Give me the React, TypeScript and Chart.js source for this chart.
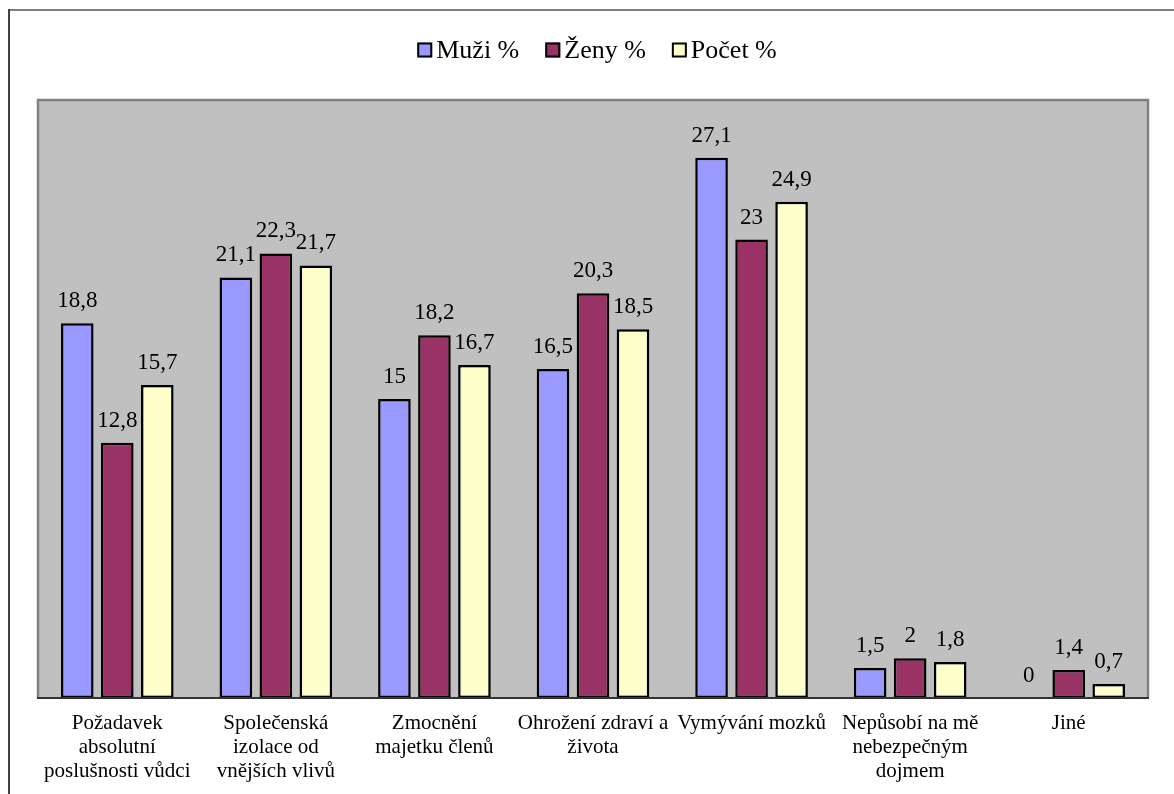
import React, { useEffect, useRef } from "react";
import { Chart, registerables } from "chart.js";

Chart.register(...registerables);

const categories: string[][] = [
  ["Požadavek", "absolutní", "poslušnosti vůdci"],
  ["Společenská", "izolace od", "vnějších vlivů"],
  ["Zmocnění", "majetku členů"],
  ["Ohrožení zdraví a", "života"],
  ["Vymývání mozků"],
  ["Nepůsobí na mě", "nebezpečným", "dojmem"],
  ["Jiné"],
];

const muzi = [18.8, 21.1, 15, 16.5, 27.1, 1.5, 0];
const zeny = [12.8, 22.3, 18.2, 20.3, 23, 2, 1.4];
const pocet = [15.7, 21.7, 16.7, 18.5, 24.9, 1.8, 0.7];

const seriesNames = ["Muži %", "Ženy %", "Počet %"];
const seriesColors = ["#9999ff", "#993366", "#ffffcc"];

const FONT = '"Liberation Serif", "Times New Roman", serif';

const framePlugin = {
  id: "framePlugin",
  beforeDraw(chart: any) {
    const { ctx, chartArea, width, height } = chart;
    ctx.save();
    ctx.fillStyle = "#ffffff";
    ctx.fillRect(0, 0, width, height);
    // outer frame
    ctx.fillStyle = "#7f7f7f";
    ctx.fillRect(0, 1, width, 2);
    ctx.fillStyle = "#404040";
    ctx.fillRect(0, 1, 2, height);
    // plot area
    const { left, top, right, bottom } = chartArea;
    ctx.fillStyle = "#c0c0c0";
    ctx.fillRect(left, top, right - left, bottom - top);
    ctx.strokeStyle = "#808080";
    ctx.lineWidth = 2.5;
    ctx.beginPath();
    ctx.moveTo(left, bottom);
    ctx.lineTo(left, top);
    ctx.lineTo(right, top);
    ctx.lineTo(right, bottom);
    ctx.stroke();
    ctx.restore();
  },
  afterDatasetsDraw(chart: any) {
    const { ctx, chartArea } = chart;
    ctx.save();
    ctx.strokeStyle = "#333333";
    ctx.lineWidth = 2;
    ctx.beginPath();
    ctx.moveTo(chartArea.left - 1, chartArea.bottom);
    ctx.lineTo(chartArea.right + 1, chartArea.bottom);
    ctx.stroke();

    // data labels
    ctx.fillStyle = "#000000";
    ctx.font = `23px ${FONT}`;
    ctx.textAlign = "center";
    ctx.textBaseline = "alphabetic";
    chart.data.datasets.forEach((ds: any, di: number) => {
      const meta = chart.getDatasetMeta(di);
      meta.data.forEach((el: any, i: number) => {
        const v = ds.data[i];
        const txt = String(v).replace(".", ",");
        ctx.fillText(txt, el.x, el.y - 16);
      });
    });

    // legend
    ctx.font = `26px ${FONT}`;
    ctx.textAlign = "left";
    ctx.textBaseline = "middle";
    const box = 15;
    const gapBoxText = 4;
    const gapItems = 26;
    const widths = seriesNames.map((n) => ctx.measureText(n).width);
    const total =
      widths.reduce((a: number, w: number) => a + box + gapBoxText + w, 0) +
      gapItems * (seriesNames.length - 1);
    let x = (chartArea.left + chartArea.right) / 2 + 4 - total / 2;
    const cy = 42;
    seriesNames.forEach((n, i) => {
      ctx.fillStyle = seriesColors[i];
      ctx.fillRect(x, cy - box / 2, box, box);
      ctx.strokeStyle = "#000000";
      ctx.lineWidth = 2;
      ctx.strokeRect(x + 1, cy - box / 2 + 1, box - 2, box - 2);
      ctx.fillStyle = "#000000";
      ctx.fillText(n, x + box + gapBoxText, cy + 1);
      x += box + gapBoxText + widths[i] + gapItems;
    });
    ctx.restore();
  },
};

export default function App() {
  const ref = useRef<HTMLCanvasElement | null>(null);

  useEffect(() => {
    if (!ref.current) return;
    const chart = new Chart(ref.current, {
      type: "bar",
      data: {
        labels: categories,
        datasets: [muzi, zeny, pocet].map((d, i) => ({
          label: seriesNames[i],
          data: d,
          backgroundColor: seriesColors[i],
          borderColor: "#000000",
          borderWidth: 2.5,
          borderSkipped: false,
          categoryPercentage: 0.757,
          barPercentage: 0.815,
        })),
      },
      options: {
        animation: false,
        responsive: true,
        maintainAspectRatio: false,
        layout: { padding: { top: 92, right: 26, left: 30, bottom: 0 } },
        plugins: {
          legend: { display: false },
          tooltip: { enabled: false },
        },
        scales: {
          x: {
            grid: { display: false, drawTicks: false },
            border: { display: false },
            ticks: {
              color: "#000000",
              font: { family: FONT, size: 21, lineHeight: 1.15 },
              maxRotation: 0,
              minRotation: 0,
              autoSkip: false,
              padding: 13,
            },
            afterFit: (scale: any) => {
              scale.height = 96;
            },
          },
          y: {
            display: false,
            min: 0,
            max: 30,
          },
        },
      },
      plugins: [framePlugin],
    });
    return () => chart.destroy();
  }, []);

  return (
    <div
      style={{
        position: "fixed",
        left: 8,
        top: 8,
        width: 1166,
        height: 786,
      }}
    >
      <canvas ref={ref} />
    </div>
  );
}
